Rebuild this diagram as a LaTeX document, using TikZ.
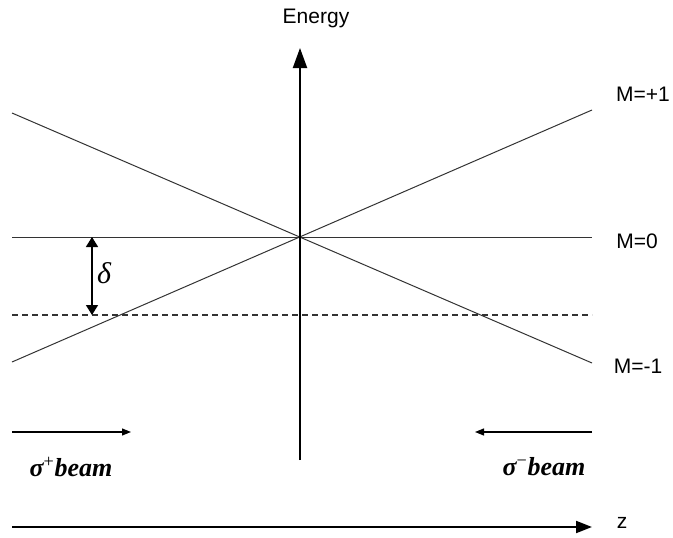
\documentclass[tikz,border=0pt]{standalone}
\usepackage{fontspec}
\setmainfont{Liberation Serif}
\newfontfamily\arialf{Liberation Sans}
\usetikzlibrary{arrows.meta}
\tikzset{
  lvl/.style={line width=1pt, draw=black!80},
  axis/.style={line width=2pt},
  lab/.style={font=\arialf\fontsize{21}{24}\selectfont, inner sep=0pt},
  beamlab/.style={font=\fontsize{26}{30}\selectfont\bfseries\itshape, inner sep=0pt},
  beamarrow/.style={line width=1.2pt, -{Triangle[length=9pt,width=7pt]}},
}
\begin{document}
\begin{tikzpicture}[x=1pt,y=-1pt]
\useasboundingbox (0,0) rectangle (673,538);
% coordinates
\coordinate (vb) at (300,460);
\coordinate (vt) at (300,48);
\coordinate (c) at (300,237);
\coordinate (m0l) at (12,237);
\coordinate (m0r) at (592,237);
\coordinate (pl) at (12,362);
\coordinate (pr) at (592,110);
\coordinate (ml) at (12,113);
\coordinate (mr) at (592,363);
\coordinate (dl) at (12,315);
\coordinate (dr) at (592,315);
\coordinate (da) at (92,237);
\coordinate (db) at (92,315);
\coordinate (s1a) at (12,432);
\coordinate (s1b) at (131,432);
\coordinate (s2a) at (592,432);
\coordinate (s2b) at (475,432);
\coordinate (za) at (12,527);
\coordinate (zb) at (592,527);
% energy levels
\draw[lvl] (m0l) -- (m0r);
\draw[lvl] (pl) -- (pr);
\draw[lvl] (ml) -- (mr);
\draw[lvl, line width=1.2pt, dash pattern=on 6pt off 4pt] (dl) -- (dr);
% axes
\draw[axis, -{Triangle[length=20pt,width=14pt]}] (vb) -- (vt);
\draw[axis, -{Triangle[length=16pt,width=12pt]}] (za) -- (zb);
% delta
\draw[line width=1.5pt, {Triangle[length=10pt,width=12pt]}-{Triangle[length=10pt,width=12pt]}] (da) -- (db);
\node[font=\fontsize{30}{32}\selectfont\itshape, inner sep=0pt] (delta) at (104,273) {δ};
% beams
\draw[beamarrow] (s1a) -- (s1b);
\draw[beamarrow] (s2a) -- (s2b);
\node[beamlab] (sp) at (71,467) {σ\textsuperscript{\normalfont +}beam};
\node[beamlab] (sm) at (544,467) {σ\textsuperscript{\normalfont −}beam};
% labels
\node[lab] (en) at (316,18) {Energy};
\node[lab] (mp1) at (643,94) {M=+1};
\node[lab] (m0) at (637,241) {M=0};
\node[lab] (mm1) at (638,366) {M=-1};
\node[lab] (z) at (622,523) {z};
\end{tikzpicture}
\end{document}
